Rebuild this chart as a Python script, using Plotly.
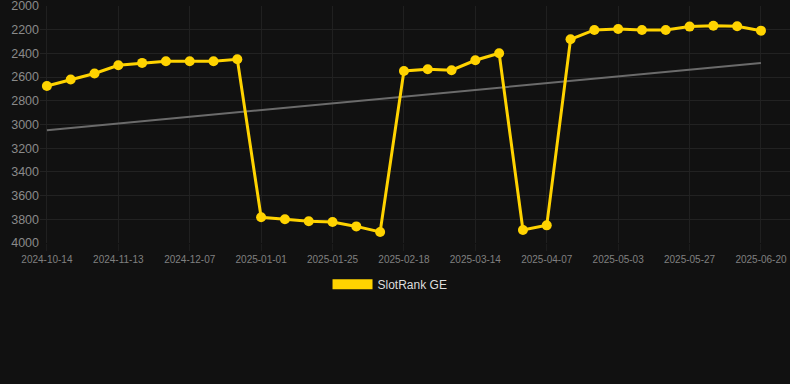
import numpy as np
import plotly.graph_objects as go

dates = [
    "2024-10-14", "2024-10-24", "2024-11-03", "2024-11-13", "2024-11-21", "2024-11-29",
    "2024-12-07", "2024-12-15", "2024-12-23", "2025-01-01", "2025-01-09", "2025-01-17",
    "2025-01-25", "2025-02-02", "2025-02-10", "2025-02-18", "2025-02-26", "2025-03-06",
    "2025-03-14", "2025-03-22", "2025-03-30", "2025-04-07", "2025-04-15", "2025-04-24",
    "2025-05-03", "2025-05-11", "2025-05-19", "2025-05-27", "2025-06-04", "2025-06-12",
    "2025-06-20",
]
ranks = [
    2675, 2620, 2570, 2500, 2480, 2466, 2466, 2466, 2450,
    3783, 3800, 3817, 3823, 3860, 3907,
    2548, 2534, 2542, 2458, 2399,
    3890, 3851,
    2281, 2202, 2194, 2202, 2202, 2174, 2166, 2171, 2208,
]
tick_labels = dates[::3]
y_ticks = [2000, 2200, 2400, 2600, 2800, 3000, 3200, 3400, 3600, 3800, 4000]
series_name = "SlotRank GE"

YELLOW = "#FFD300"
idx = np.arange(len(ranks))
slope, intercept = np.polyfit(idx, ranks, 1)
trend = slope * idx + intercept

fig = go.Figure()
fig.add_trace(go.Scatter(
    x=[dates[0], dates[-1]], y=[trend[0], trend[-1]], mode="lines",
    line=dict(color="#6b6b6b", width=2), showlegend=False, hoverinfo="skip",
))
fig.add_trace(go.Scatter(
    x=dates, y=ranks, mode="lines+markers",
    line=dict(color=YELLOW, width=3),
    marker=dict(color=YELLOW, size=10),
    showlegend=False,
))
# legend entry as a filled bar-like swatch
fig.add_trace(go.Scatter(
    x=[None], y=[None], mode="lines", name=series_name,
    line=dict(color=YELLOW, width=11), showlegend=True,
))

fig.update_layout(
    width=790, height=384,
    paper_bgcolor="#111111", plot_bgcolor="#111111",
    margin=dict(l=40, r=0, t=6, b=141),
    font=dict(family="Liberation Sans, Arial, sans-serif", color="#8a8a8a"),
    showlegend=True,
    legend=dict(
        orientation="h", xref="container", yref="container",
        x=0.4937, xanchor="center", y=0.26, yanchor="middle",
        font=dict(size=12, color="#dddddd"),
        bgcolor="rgba(0,0,0,0)", itemwidth=40,
    ),
    hovermode=False,
)
fig.update_xaxes(
    type="category", categoryorder="array", categoryarray=dates,
    range=[-0.29, 31.22],
    tickmode="array", tickvals=tick_labels, ticktext=tick_labels,
    tickfont=dict(size=10, color="#808080"),
    showgrid=True, gridcolor="#202020", gridwidth=1,
    ticks="outside", ticklen=7, tickcolor="#1c1c1c",
    showline=False, zeroline=False, ticklabeloverflow="allow",
)
fig.update_yaxes(
    range=[4000, 2000],
    tickmode="array", tickvals=y_ticks, ticktext=[str(v) for v in y_ticks],
    tickfont=dict(size=12.5, color="#8a8a8a"),
    showgrid=True, gridcolor="#222222", gridwidth=1,
    zeroline=False, showline=False, ticks="", ticklabeloverflow="allow",
)

fig.write_html("out.html", config={"displayModeBar": False, "staticPlot": True})
with open("out.html", "r", encoding="utf-8") as f:
    html = f.read()
html = html.replace("<head>", "<head><style>html,body{margin:0;padding:0;background:#111111;overflow:hidden}</style>", 1)
with open("out.html", "w", encoding="utf-8") as f:
    f.write(html)
